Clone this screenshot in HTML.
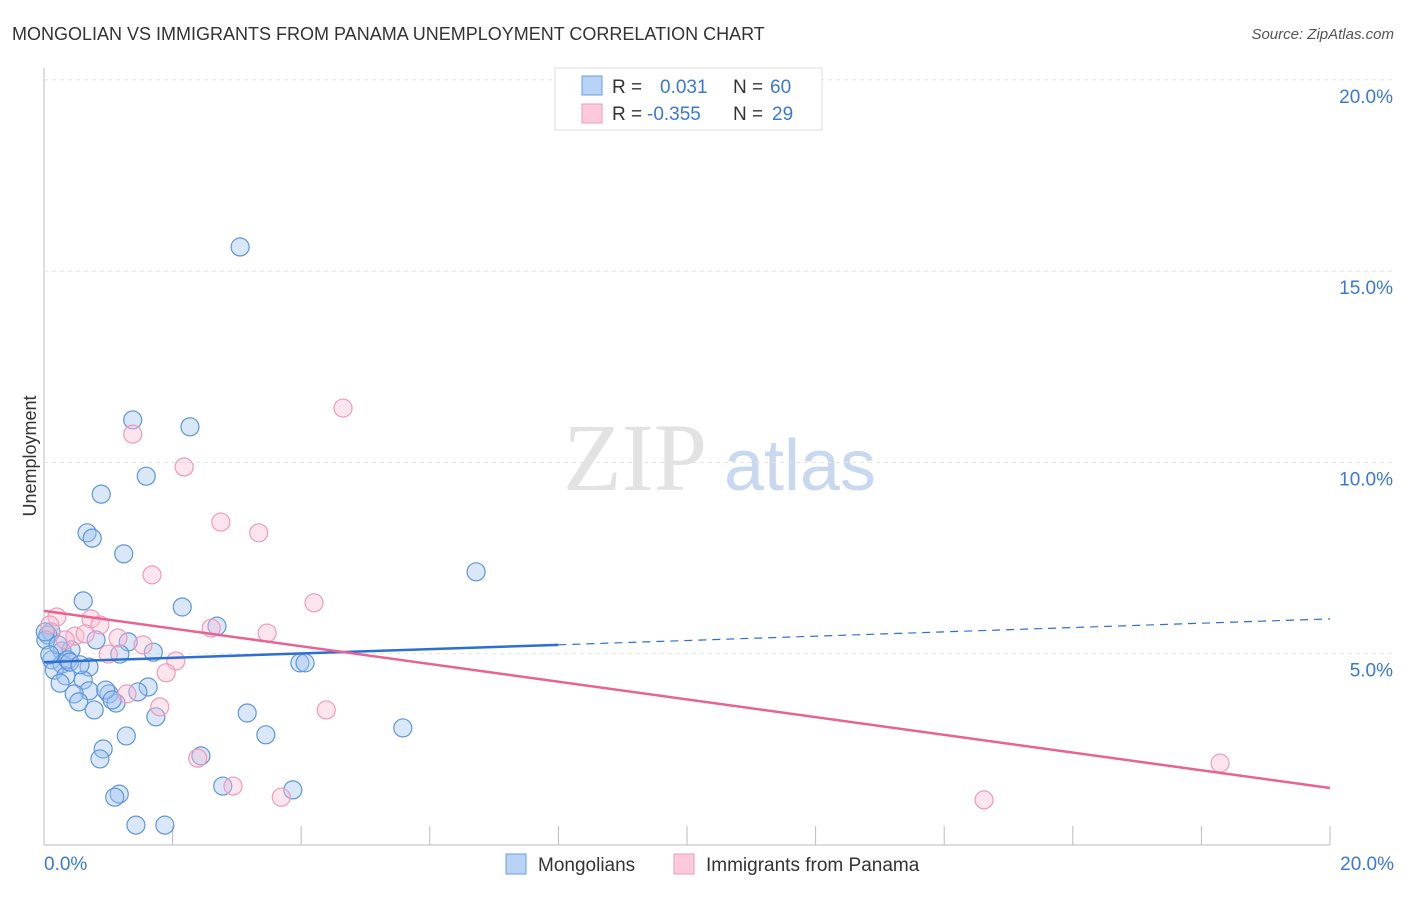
<!DOCTYPE html>
<html><head><meta charset="utf-8"><style>
body{margin:0;background:#fff;font-family:"Liberation Sans",sans-serif;}
</style></head><body>
<svg width="1406" height="892" xmlns="http://www.w3.org/2000/svg" id="svg">
<text x="12" y="40" font-size="18" fill="#333">MONGOLIAN VS IMMIGRANTS FROM PANAMA UNEMPLOYMENT CORRELATION CHART</text>
<text x="1394" y="39" font-size="15" fill="#555" font-style="italic" text-anchor="end">Source: ZipAtlas.com</text>
<text x="36" y="456" font-size="18" fill="#333" text-anchor="middle" transform="rotate(-90 36 456)">Unemployment</text>
<g><text x="635" y="490" font-size="96" fill="#e2e2e2" font-family="Liberation Serif" text-anchor="middle">ZIP</text><text x="800" y="490" font-size="72" fill="#c8d8ef" text-anchor="middle">atlas</text></g>
<g id="grid"></g><g id="marks"></g>
<g>
<rect x="555" y="68" width="267" height="62" fill="#fff" stroke="#ddd"/>
<rect x="582" y="76" width="20" height="19" fill="#b8d3f5" stroke="#6a9ee0"/>
<rect x="582" y="104" width="20" height="19" fill="#fccadb" stroke="#ef9ab8"/>
<text x="612" y="93" font-size="19" fill="#333">R =</text><text x="660" y="93" font-size="19" fill="#3a78d6">0.031</text>
<text x="733" y="93" font-size="19" fill="#333">N =</text><text x="770" y="93" font-size="19" fill="#3a78d6">60</text>
<text x="612" y="120" font-size="19" fill="#333">R =</text><text x="647" y="120" font-size="19" fill="#3a78d6">-0.355</text>
<text x="733" y="120" font-size="19" fill="#333">N =</text><text x="772" y="120" font-size="19" fill="#3a78d6">29</text>
</g>
<g>
<rect x="506" y="854" width="20" height="20" fill="#b8d3f5" stroke="#6a9ee0"/><text x="538" y="871" font-size="19" fill="#333">Mongolians</text>
<rect x="674" y="854" width="20" height="20" fill="#fccadb" stroke="#ef9ab8"/><text x="706" y="871" font-size="19" fill="#333">Immigrants from Panama</text>
</g>
</svg>
<script>
const xTicks=[0,2,4,6,8,10,12,14,16,18,20];
const yTicks=[5,10,15,20];
const blueX=[3.05,1.38,2.27,1.59,0.89,0.67,0.75,1.24,6.72,0.61,2.15,2.69,0.11,0.81,1.31,1.70,1.18,0.28,0.42,0.12,0.28,0.70,3.98,4.06,0.16,0.34,0.61,0.25,1.62,0.70,1.01,1.46,0.47,0.54,1.12,0.78,3.16,1.74,5.58,1.28,3.45,0.92,0.87,2.44,2.78,3.87,1.17,1.10,1.43,1.88,0.06,0.03,0.22,0.37,0.02,0.40,0.56,0.96,1.06,0.09];
const blueY=[15.63,11.11,10.93,9.64,9.17,8.16,8.02,7.61,7.14,6.38,6.22,5.72,5.57,5.36,5.31,5.04,4.99,5.07,5.10,4.84,4.73,4.65,4.76,4.76,4.57,4.42,4.31,4.23,4.13,4.03,3.95,4.00,3.95,3.74,3.71,3.53,3.45,3.35,3.06,2.85,2.88,2.51,2.25,2.33,1.54,1.44,1.33,1.25,0.52,0.52,5.49,5.36,5.23,4.84,5.57,4.78,4.71,4.05,3.79,4.97];
const pinkX=[4.65,1.38,2.18,2.75,3.34,1.68,4.20,0.20,0.73,0.87,2.60,3.47,0.48,0.64,1.15,1.54,1.00,2.05,1.90,1.29,1.80,4.39,2.39,2.94,3.69,14.62,18.29,0.09,0.33];
const pinkY=[11.42,10.74,9.88,8.44,8.16,7.06,6.33,5.96,5.91,5.75,5.67,5.54,5.46,5.52,5.41,5.23,4.99,4.81,4.50,3.95,3.61,3.53,2.27,1.54,1.25,1.18,2.14,5.75,5.36];
const blueTrend=[4.78,5.91], pinkTrend=[6.12,1.49], blueSolidEnd=8;
const sx=v=>44+v/20*1286, sy=v=>845-v/5*191.3;
const NS='http://www.w3.org/2000/svg';
function mk(t,a,p){const e=document.createElementNS(NS,t);for(const k in a)e.setAttribute(k,a[k]);p.appendChild(e);return e;}
const g=document.getElementById('grid'),m=document.getElementById('marks');
let ax=mk('line',{x1:44,y1:68,x2:44,y2:845,stroke:'#bbb'},g);

let bx=mk('line',{x1:44,y1:845,x2:1330,y2:845,stroke:'#bbb'},g);

yTicks.forEach(v=>{const l=mk('line',{x1:44,y1:sy(v),x2:1394,y2:sy(v),stroke:'#e2e2e2','stroke-dasharray':'4 4'},g);

const t=mk('text',{x:1393,y:sy(v)+23,'font-size':19,fill:'#3a78d6','text-anchor':'end'},g);t.textContent=v.toFixed(1)+'%';
});
xTicks.forEach(v=>{const l=mk('line',{x1:sx(v),y1:826,x2:sx(v),y2:845,stroke:'#bbb'},g);
});
[[0,'start',44],[20,'end',1394]].forEach(([v,a,x])=>{const t=mk('text',{x:x,y:870,'font-size':19,fill:'#3a78d6','text-anchor':a},g);t.textContent=v.toFixed(1)+'%';
});
blueX.forEach((x,i)=>{const c=mk('circle',{cx:sx(x),cy:sy(blueY[i]),r:9,fill:'rgba(160,196,240,0.4)',stroke:'#5d95dc','stroke-width':1.2},m);
});
pinkX.forEach((x,i)=>{const c=mk('circle',{cx:sx(x),cy:sy(pinkY[i]),r:9,fill:'rgba(250,190,210,0.4)',stroke:'#ef9ab8','stroke-width':1.2},m);
});
const by=x=>blueTrend[0]+(blueTrend[1]-blueTrend[0])*x/20;
let l1=mk('line',{x1:sx(0),y1:sy(by(0)),x2:sx(blueSolidEnd),y2:sy(by(blueSolidEnd)),stroke:'#2b6fd6','stroke-width':2.5},m);

let l2=mk('line',{x1:sx(blueSolidEnd),y1:sy(by(blueSolidEnd)),x2:sx(20),y2:sy(by(20)),stroke:'#2b6fd6','stroke-width':1.2,'stroke-dasharray':'8 6'},m);

let l3=mk('line',{x1:sx(0),y1:sy(pinkTrend[0]),x2:sx(20),y2:sy(pinkTrend[1]),stroke:'#e8638f','stroke-width':2.5},m);

</script>
</body></html>
